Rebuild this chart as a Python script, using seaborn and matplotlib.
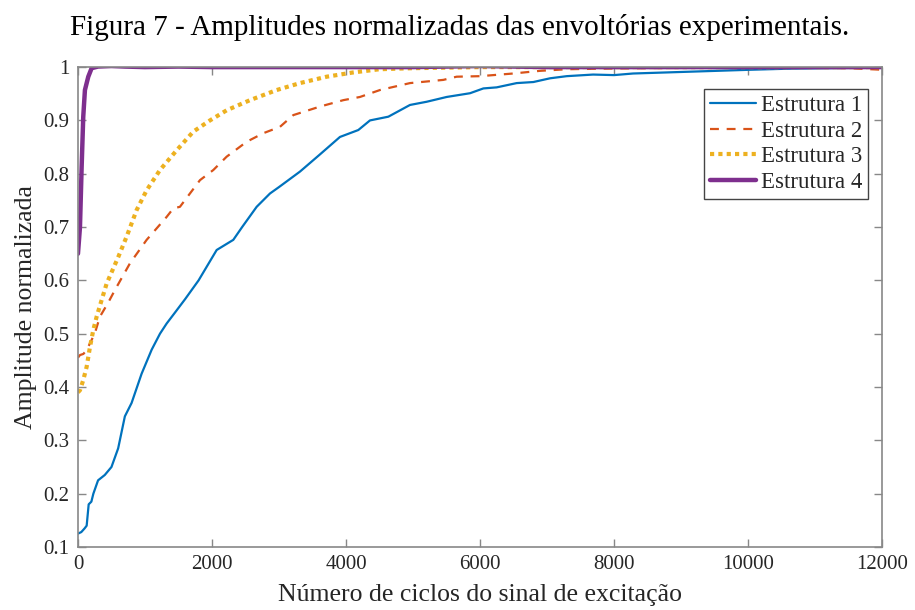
import numpy as np
import pandas as pd
import matplotlib
matplotlib.use("Agg")
import matplotlib.pyplot as plt
import seaborn as sns

# ---- data ----
x1 = [0, 50, 100, 130, 160, 200, 230, 300, 400, 500, 600, 700, 800, 950, 1100, 1224, 1323,
      1450, 1600, 1800, 2070, 2318, 2450, 2667, 2866, 3000, 3313, 3600, 3910, 4184, 4358,
      4632, 4955, 5204, 5503, 5851, 6050, 6249, 6547, 6796, 7045, 7294, 7687, 8000, 8284,
      8786, 9284, 10030, 10600, 11200, 12000]
y1 = [0.125, 0.128, 0.135, 0.14, 0.18, 0.185, 0.2, 0.225, 0.235, 0.25, 0.285, 0.345, 0.37,
      0.425, 0.47, 0.5, 0.519, 0.54, 0.565, 0.6, 0.657, 0.676, 0.7, 0.738, 0.763, 0.775,
      0.804, 0.835, 0.869, 0.882, 0.9, 0.907, 0.929, 0.935, 0.944, 0.951, 0.96, 0.962, 0.97,
      0.972, 0.979, 0.983, 0.986, 0.985, 0.988, 0.99, 0.992, 0.995, 0.997, 0.998, 0.999]

x2 = [0, 30, 80, 130, 179, 250, 328, 450, 552, 776, 1025, 1323, 1423, 1522, 1821, 2020, 2219,
      2518, 2766, 3015, 3214, 3612, 3960, 4209, 4507, 4955, 5452, 5652, 6000, 6497, 6896,
      7294, 7800, 8500, 9500, 10500, 11500, 12000]
y2 = [0.455, 0.46, 0.462, 0.469, 0.482, 0.5, 0.532, 0.558, 0.582, 0.632, 0.676, 0.719, 0.735,
      0.738, 0.788, 0.807, 0.832, 0.86, 0.876, 0.888, 0.91, 0.926, 0.938, 0.944, 0.957,
      0.97, 0.976, 0.982, 0.983, 0.988, 0.993, 0.996, 0.997, 0.998, 0.999, 0.999, 0.998, 0.995]

x3 = [0, 30, 79, 130, 179, 229, 279, 353, 428, 602, 726, 876, 1025, 1224, 1473, 1721, 1970,
      2219, 2567, 2966, 3313, 3712, 4109, 4500, 5000, 5500, 6000, 7000, 8000, 9000, 10000,
      11000, 12000]
y3 = [0.39, 0.394, 0.413, 0.438, 0.475, 0.507, 0.532, 0.563, 0.594, 0.644, 0.682, 0.732,
      0.769, 0.807, 0.844, 0.879, 0.9, 0.919, 0.938, 0.957, 0.97, 0.982, 0.99, 0.996, 0.998,
      0.999, 1.0, 1.0, 1.0, 1.0, 1.0, 1.0, 1.0]

x4 = [0, 30, 55, 79, 104, 154, 204, 300, 500, 700, 1000, 1500, 2000, 3000, 4000, 5000, 6000,
      7000, 8000, 9000, 10000, 11000, 12000]
y4 = [0.65, 0.7, 0.813, 0.907, 0.957, 0.982, 0.998, 1.001, 1.002, 1.001, 1.0, 1.001, 1.0,
      1.0, 1.0, 1.0, 1.002, 1.0, 1.0, 1.0, 1.0, 1.0, 1.0]

labels = ["Estrutura 1", "Estrutura 2", "Estrutura 3", "Estrutura 4"]
colors = ["#0072BD", "#D95319", "#EDB120", "#7E2F8E"]

x_ticks = [0, 2000, 4000, 6000, 8000, 10000, 12000]
y_ticks = [0.1, 0.2, 0.3, 0.4, 0.5, 0.6, 0.7, 0.8, 0.9, 1.0]
y_ticklabels = ["0.1", "0.2", "0.3", "0.4", "0.5", "0.6", "0.7", "0.8", "0.9", "1"]

title = "Figura 7 - Amplitudes normalizadas das envoltórias experimentais."
xlabel = "Número de ciclos do sinal de excitação"
ylabel = "Amplitude normalizada"

# ---- style ----
sns.set_theme(style="white")
plt.rcParams["font.family"] = ["Liberation Serif", "DejaVu Serif"]
plt.rcParams["axes.edgecolor"] = "#888888"
plt.rcParams["text.color"] = "#262626"

fig = plt.figure(figsize=(9.15, 6.10), dpi=100)
ax = fig.add_axes([0.0852, 0.1033, 0.8788, 0.7867])

series = [(x1, y1), (x2, y2), (x3, y3), (x4, y4)]
styles = [dict(lw=1.6, ls="-"), dict(lw=1.6, ls=(0, (4, 3.5))),
          dict(lw=3.0, ls=(0, (1, 1))), dict(lw=3.2, ls="-")]
for (xs, ys), lab, c, st in zip(series, labels, colors, styles):
    df = pd.DataFrame({"x": xs, "y": ys})
    sns.lineplot(data=df, x="x", y="y", ax=ax, color=c, label=lab,
                 linewidth=st["lw"], linestyle=st["ls"], estimator=None, sort=False)

ax.set_xlim(0, 12000)
ax.set_ylim(0.1, 1.0)
ax.set_xticks(x_ticks)
ax.set_xticklabels([str(t) for t in x_ticks])
ax.set_yticks(y_ticks)
ax.set_yticklabels(y_ticklabels)
ax.tick_params(direction="in", length=6, width=1, color="#888888",
               top=True, right=True, bottom=True, left=True,
               labelsize=15, labelcolor="#262626", pad=6)
for s in ax.spines.values():
    s.set_visible(True)
    s.set_color("#888888")
    s.set_linewidth(1.2)

ax.set_xlabel(xlabel, fontsize=18.5, color="#262626", labelpad=7)
ax.set_ylabel(ylabel, fontsize=18.5, color="#262626", labelpad=5)
fig.text(0.502, 0.955, title, ha="center", va="center", fontsize=21, color="black")

leg = ax.legend(loc="upper right", bbox_to_anchor=(0.983, 0.954), fontsize=16.5,
                frameon=True, fancybox=False, framealpha=1, edgecolor="#444444",
                handlelength=2.0, handletextpad=0.25, borderpad=0.25, labelspacing=0.2,
                borderaxespad=0.0)
leg.get_frame().set_linewidth(1.0)

fig.savefig("out.png", dpi=100, facecolor="white")
